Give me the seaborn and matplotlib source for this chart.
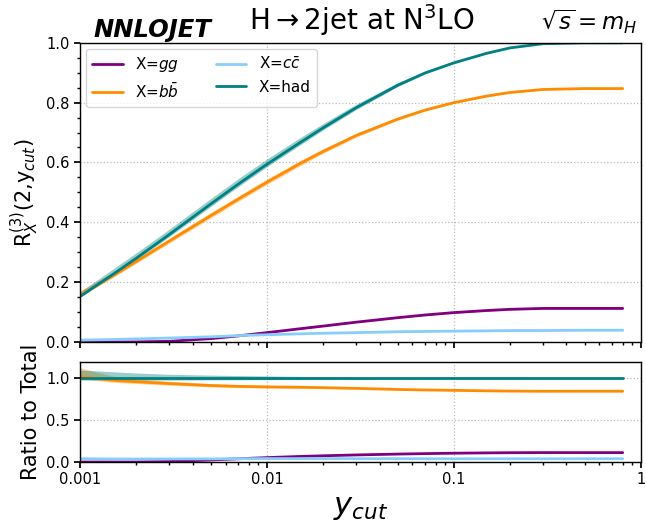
import numpy as np
import pandas as pd
import matplotlib
matplotlib.use("Agg")
import matplotlib.pyplot as plt
import matplotlib.ticker as mticker
import seaborn as sns

# ---- data ----
ycut = [0.001, 0.0015, 0.002, 0.003, 0.005, 0.007, 0.01, 0.015, 0.02, 0.03,
        0.05, 0.07, 0.1, 0.15, 0.2, 0.3, 0.5, 0.8]
r_had = [0.152, 0.226, 0.280, 0.359, 0.461, 0.527, 0.594, 0.666, 0.716, 0.783,
         0.858, 0.899, 0.933, 0.965, 0.983, 0.997, 1.000, 1.000]
r_bb = [0.156, 0.221, 0.269, 0.337, 0.422, 0.477, 0.534, 0.596, 0.637, 0.690,
        0.745, 0.775, 0.800, 0.822, 0.834, 0.844, 0.847, 0.847]
r_gg = [0.000, 0.000, 0.000, 0.002, 0.011, 0.020, 0.031, 0.044, 0.053, 0.066,
        0.081, 0.090, 0.098, 0.105, 0.109, 0.112, 0.112, 0.112]
r_cc = [0.006, 0.008, 0.010, 0.013, 0.017, 0.021, 0.024, 0.027, 0.029, 0.031,
        0.034, 0.035, 0.036, 0.037, 0.038, 0.038, 0.039, 0.039]
# relative scale-uncertainty (upper / lower)
up_had = [0.10, 0.08, 0.065, 0.05, 0.04, 0.035, 0.03, 0.025, 0.02, 0.015,
          0.01, 0.007, 0.005, 0.003, 0.002, 0.001, 0.0, 0.0]
dn_had = [0.02, 0.02, 0.02, 0.02, 0.018, 0.016, 0.014, 0.012, 0.01, 0.008,
          0.005, 0.003, 0.002, 0.001, 0.0, 0.0, 0.0, 0.0]
up_bb = [0.10, 0.05, 0.035, 0.03, 0.025, 0.022, 0.02, 0.017, 0.014, 0.011,
         0.008, 0.006, 0.005, 0.004, 0.003, 0.003, 0.003, 0.003]
dn_bb = [0.03, 0.025, 0.022, 0.02, 0.018, 0.016, 0.014, 0.012, 0.01, 0.008,
         0.006, 0.004, 0.003, 0.003, 0.002, 0.002, 0.002, 0.002]
up_gg = [0.05, 0.05, 0.05, 0.05, 0.04, 0.04, 0.03, 0.03, 0.03, 0.02,
         0.02, 0.02, 0.02, 0.02, 0.02, 0.02, 0.02, 0.02]
dn_gg = up_gg
up_cc = [0.02] * 18
dn_cc = up_cc

labels = ["X=$gg$", "X=$b\\bar{b}$", "X=$c\\bar{c}$", "X=had"]
colors = ["purple", "darkorange", "lightskyblue", "teal"]

series = {
    labels[0]: (r_gg, up_gg, dn_gg),
    labels[1]: (r_bb, up_bb, dn_bb),
    labels[2]: (r_cc, up_cc, dn_cc),
    labels[3]: (r_had, up_had, dn_had),
}

had = np.array(r_had)
rows = []
for lab, (v, u, d) in series.items():
    v = np.array(v); u = np.array(u); d = np.array(d)
    for x, val, uu, dd, h in zip(ycut, v, u, d, had):
        rows.append(dict(ycut=x, series=lab, R=val, hi=val * (1 + uu),
                         lo=val * (1 - dd), ratio=val / h,
                         rhi=val * (1 + uu) / h, rlo=val * (1 - dd) / h))
df = pd.DataFrame(rows)

sns.set_theme(style="ticks")
plt.rcParams["font.family"] = ["DejaVu Sans"]
plt.rcParams["mathtext.fontset"] = "dejavusans"
for k in ["text.color", "axes.labelcolor", "xtick.color", "ytick.color",
          "axes.edgecolor"]:
    plt.rcParams[k] = "black"

fig = plt.figure(figsize=(6.46, 5.22), dpi=100)
ax1 = fig.add_axes([0.124, 0.345, 0.868, 0.573])
ax2 = fig.add_axes([0.124, 0.115, 0.868, 0.192], sharex=ax1)

pal = dict(zip(labels, colors))
for ax, ycol, lo, hi in [(ax1, "R", "lo", "hi"), (ax2, "ratio", "rlo", "rhi")]:
    for lab in labels:
        sub = df[df.series == lab]
        ax.fill_between(sub.ycut, sub[lo], sub[hi], color=pal[lab], alpha=0.4,
                        lw=0)
    sns.lineplot(data=df, x="ycut", y=ycol, hue="series", hue_order=labels,
                 palette=pal, lw=2, ax=ax, legend=(ax is ax1))

for ax in (ax1, ax2):
    ax.set_xscale("log")
    ax.set_xlim(0.001, 1)
    ax.grid(True, which="major", ls=":", color="#bbbbbb", lw=0.9)
    ax.tick_params(which="both", direction="out", labelsize=10.5)
    ax.tick_params(which="major", length=4)
    ax.tick_params(which="minor", length=2.5)
    for s in ax.spines.values():
        s.set_linewidth(1.0)
        s.set_color("black")

ax1.set_ylim(0, 1.0)
ax1.yaxis.set_major_locator(mticker.MultipleLocator(0.2))
ax1.yaxis.set_minor_locator(mticker.MultipleLocator(0.05))
ax1.set_ylabel("R$_X^{(3)}$(2,y$_{cut}$)", fontsize=15)
ax1.set_xlabel("")
plt.setp(ax1.get_xticklabels(), visible=False)

ax2.set_ylim(0, 1.2)
ax2.yaxis.set_major_locator(mticker.FixedLocator([0.0, 0.5, 1.0]))
ax2.yaxis.set_minor_locator(mticker.NullLocator())
ax2.set_ylabel("Ratio to Total", fontsize=15)
ax2.set_xlabel("$y_{cut}$", fontsize=22)
ax2.xaxis.set_major_formatter(mticker.FuncFormatter(lambda v, p: f"{v:g}"))

leg = ax1.legend(loc="upper left", ncol=2, fontsize=11, frameon=True,
                 handlelength=2.0, columnspacing=2.4, borderaxespad=0.4)
leg.get_frame().set_edgecolor("#cccccc")

ax1.text(0.023, 1.02, "NNLOJET", transform=ax1.transAxes, fontsize=17.5,
         fontweight="bold", fontstyle="italic", ha="left", va="baseline")
ax1.text(0.503, 1.043, "H$\\rightarrow$2jet at N$^3$LO",
         transform=ax1.transAxes, fontsize=20, ha="center", va="baseline")
ax1.text(0.993, 1.043, "$\\sqrt{s}=m_H$", transform=ax1.transAxes,
         fontsize=16.5, ha="right", va="baseline")

fig.savefig("out.png", dpi=100)
